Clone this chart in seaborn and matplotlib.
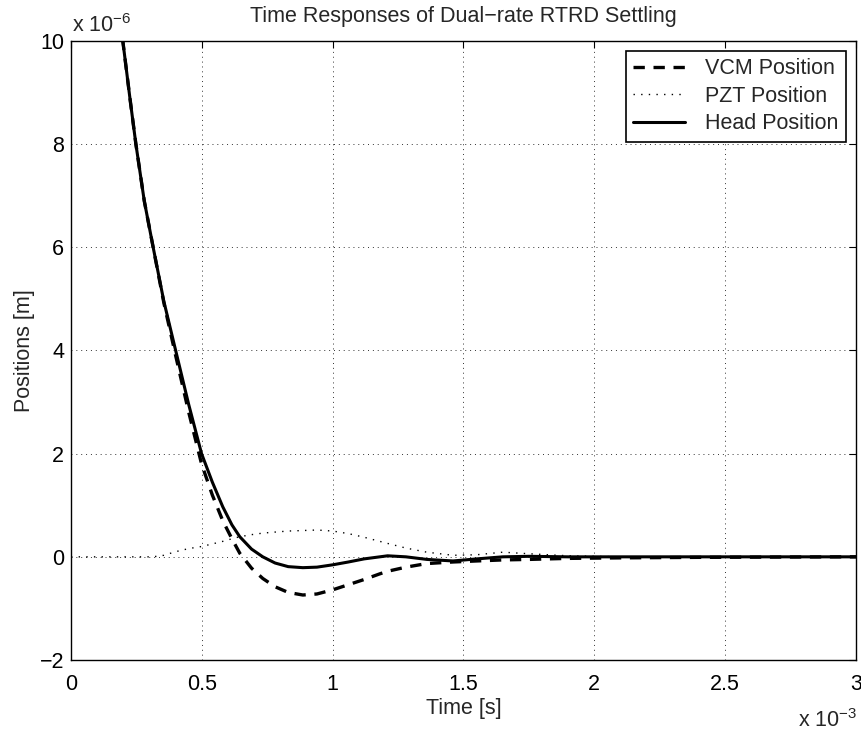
import numpy as np
import pandas as pd
import matplotlib
matplotlib.use("Agg")
import matplotlib.pyplot as plt
import seaborn as sns

# time in units of 1e-3 s
t = [0.15, 0.198, 0.225, 0.248, 0.28, 0.314, 0.355, 0.40, 0.45, 0.499, 0.54, 0.58,
     0.615, 0.645, 0.69, 0.733, 0.78, 0.83, 0.886, 0.94, 1.0, 1.06, 1.12, 1.18,
     1.21, 1.28, 1.36, 1.46, 1.55, 1.65, 1.75, 1.9, 2.1, 2.4, 3.0]
# positions in units of 1e-6 m
vcm = [12.2, 10.0, 8.9, 8.0, 6.9, 6.0, 4.92, 3.9, 2.8, 1.8, 1.2, 0.7,
       0.35, 0.07, -0.22, -0.42, -0.58, -0.69, -0.74, -0.72, -0.64, -0.54, -0.44, -0.33,
       -0.28, -0.2, -0.13, -0.1, -0.08, -0.06, -0.05, -0.03, -0.02, -0.01, 0.0]
head = [12.2, 10.0, 8.9, 8.0, 6.9, 6.0, 4.95, 4.0, 2.95, 2.0, 1.45, 0.97,
        0.62, 0.39, 0.15, 0.0, -0.12, -0.19, -0.21, -0.2, -0.155, -0.1, -0.04, 0.0,
        0.02, 0.0, -0.05, -0.08, -0.04, 0.0, 0.01, 0.0, 0.0, 0.0, 0.0]
t_pzt = [0.0, 0.15, 0.30, 0.33, 0.355, 0.40, 0.45, 0.499, 0.54, 0.58, 0.615, 0.645,
         0.69, 0.733, 0.78, 0.83, 0.886, 0.94, 1.0, 1.06, 1.12, 1.18, 1.21, 1.28,
         1.36, 1.46, 1.55, 1.65, 1.75, 1.9, 2.1, 2.4, 3.0]
pzt = [0.0, 0.0, 0.0, 0.01, 0.03, 0.1, 0.16, 0.2, 0.25, 0.3, 0.35, 0.39,
       0.43, 0.46, 0.48, 0.5, 0.51, 0.52, 0.5, 0.45, 0.38, 0.3, 0.26, 0.17,
       0.09, 0.03, 0.04, 0.09, 0.06, 0.02, 0.0, 0.0, 0.0]

xticks = [0, 0.5, 1, 1.5, 2, 2.5, 3]
xticklabels = ["0", "0.5", "1", "1.5", "2", "2.5", "3"]
yticks = [-2, 0, 2, 4, 6, 8, 10]
yticklabels = ["\u22122", "0", "2", "4", "6", "8", "10"]

sns.set_theme(style="white")
plt.rcParams["font.family"] = ["Liberation Sans", "DejaVu Sans"]
plt.rcParams["mathtext.fontset"] = "custom"
plt.rcParams["mathtext.rm"] = "Liberation Sans"
plt.rcParams["mathtext.it"] = "Liberation Sans"
plt.rcParams["mathtext.default"] = "regular"

fs = 15.5
fig = plt.figure(figsize=(8.62, 7.34), dpi=100)
ax = fig.add_axes([71/862, 1-660/734, (856-71)/862, (660-41)/734])

df_v = pd.DataFrame({"t": t, "y": vcm})
df_p = pd.DataFrame({"t": t_pzt, "y": pzt})
df_h = pd.DataFrame({"t": t, "y": head})

sns.lineplot(data=df_v, x="t", y="y", ax=ax, color="black", lw=2.4,
             linestyle=(0, (3.4, 2.6)), label="VCM Position", sort=False)
sns.lineplot(data=df_p, x="t", y="y", ax=ax, color="black", lw=1.0,
             linestyle=(0, (1, 4.5)), label="PZT Position", sort=False)
sns.lineplot(data=df_h, x="t", y="y", ax=ax, color="black", lw=2.2,
             linestyle="-", label="Head Position", sort=False)

ax.set_xlim(0, 3)
ax.set_ylim(-2, 10)
ax.set_xticks(xticks)
ax.set_xticklabels(xticklabels)
ax.set_yticks(yticks)
ax.set_yticklabels(yticklabels)
ax.tick_params(direction="in", length=5, width=0.8, colors="black",
               labelsize=fs, top=True, right=True)
ax.tick_params(axis="x", pad=10)
ax.tick_params(axis="y", pad=5)
ax.grid(True, linestyle=(0, (1, 4)), color="black", linewidth=0.7, alpha=0.8)
for s in ax.spines.values():
    s.set_color("black")
    s.set_linewidth(1.0)
    s.set_visible(True)

ax.set_xlabel("Time [s]", fontsize=fs, labelpad=2)
ax.set_ylabel("Positions [m]", fontsize=fs, labelpad=3)
ax.set_title("Time Responses of Dual\u2212rate RTRD Settling", fontsize=fs, pad=14)

fig.text(72/862, 1-32/734, "x 10$^{-6}$", fontsize=fs,
         ha="left", va="baseline")
fig.text(857/862, 1-727/734, "x 10$^{-3}$", fontsize=fs,
         ha="right", va="baseline")

leg = ax.legend(loc="upper right", fontsize=fs, frameon=True, fancybox=False,
                edgecolor="black", framealpha=1, borderpad=0.35,
                handlelength=2.4, handletextpad=0.95, labelspacing=0.3,
                borderaxespad=0.45)
leg.get_frame().set_linewidth(1.2)

fig.savefig("out.png", dpi=100)
